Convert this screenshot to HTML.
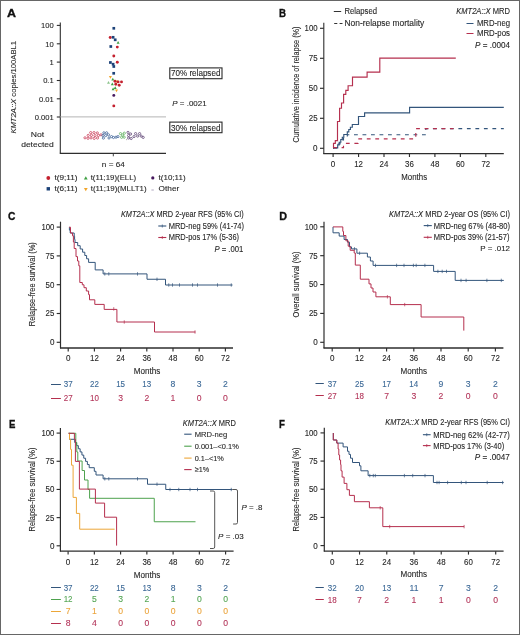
<!DOCTYPE html><html><head><meta charset="utf-8"><style>html,body{margin:0;padding:0;background:#fff;}svg{display:block;will-change:transform;} text{stroke-width:0.1px;} </style></head><body>
<svg width="520" height="635" viewBox="0 0 520 635" font-family='"Liberation Sans", sans-serif'>
<rect x="0" y="0" width="520" height="635" fill="#fff"/>
<rect x="0.5" y="0.5" width="519" height="634" fill="none" stroke="#666" stroke-width="1"/>
<text x="6.9" y="16.7" font-size="11.8" font-weight="bold" fill="#111" stroke="#111" style="stroke-width:0.35px" textLength="9.0" lengthAdjust="spacingAndGlyphs">A</text>
<text x="278.9" y="16.7" font-size="11.8" font-weight="bold" fill="#111" stroke="#111" style="stroke-width:0.35px" textLength="7.0" lengthAdjust="spacingAndGlyphs">B</text>
<text x="8.0" y="219.9" font-size="11.8" font-weight="bold" fill="#111" stroke="#111" style="stroke-width:0.35px" textLength="7.4" lengthAdjust="spacingAndGlyphs">C</text>
<text x="279.2" y="219.7" font-size="11.8" font-weight="bold" fill="#111" stroke="#111" style="stroke-width:0.35px" textLength="7.8" lengthAdjust="spacingAndGlyphs">D</text>
<text x="8.9" y="428.2" font-size="11.8" font-weight="bold" fill="#111" stroke="#111" style="stroke-width:0.35px" textLength="6.4" lengthAdjust="spacingAndGlyphs">E</text>
<text x="278.9" y="428.2" font-size="11.8" font-weight="bold" fill="#111" stroke="#111" style="stroke-width:0.35px" textLength="5.9" lengthAdjust="spacingAndGlyphs">F</text>
<line x1="60.30" y1="22.50" x2="60.30" y2="153.60" stroke="#2e2e2e" stroke-width="1.1" />
<line x1="59.80" y1="153.40" x2="166.00" y2="153.40" stroke="#2e2e2e" stroke-width="1.1" />
<line x1="56.80" y1="25.40" x2="60.30" y2="25.40" stroke="#2e2e2e" stroke-width="1.1" />
<text x="53.70" y="28.15" font-size="7.6" fill="#262626" stroke="#262626" text-anchor="end" >100</text>
<line x1="56.80" y1="43.80" x2="60.30" y2="43.80" stroke="#2e2e2e" stroke-width="1.1" />
<text x="53.70" y="46.55" font-size="7.6" fill="#262626" stroke="#262626" text-anchor="end" >10</text>
<line x1="56.80" y1="62.10" x2="60.30" y2="62.10" stroke="#2e2e2e" stroke-width="1.1" />
<text x="53.70" y="64.85" font-size="7.6" fill="#262626" stroke="#262626" text-anchor="end" >1</text>
<line x1="56.80" y1="80.50" x2="60.30" y2="80.50" stroke="#2e2e2e" stroke-width="1.1" />
<text x="53.70" y="83.25" font-size="7.6" fill="#262626" stroke="#262626" text-anchor="end" >0.1</text>
<line x1="56.80" y1="98.80" x2="60.30" y2="98.80" stroke="#2e2e2e" stroke-width="1.1" />
<text x="53.70" y="101.55" font-size="7.6" fill="#262626" stroke="#262626" text-anchor="end" >0.01</text>
<line x1="56.80" y1="117.00" x2="60.30" y2="117.00" stroke="#2e2e2e" stroke-width="1.1" />
<text x="53.70" y="119.75" font-size="7.6" fill="#262626" stroke="#262626" text-anchor="end" >0.001</text>
<line x1="60.30" y1="116.90" x2="166.00" y2="116.90" stroke="#b4b4b4" stroke-width="1.0" />
<text x="37.50" y="136.90" font-size="7.6" fill="#262626" stroke="#262626" text-anchor="middle" textLength="13.40" lengthAdjust="spacingAndGlyphs" >Not</text>
<text x="37.50" y="146.90" font-size="7.6" fill="#262626" stroke="#262626" text-anchor="middle" textLength="32.70" lengthAdjust="spacingAndGlyphs" >detected</text>
<line x1="113.30" y1="153.40" x2="113.30" y2="156.30" stroke="#2e2e2e" stroke-width="0.9" />
<text x="113.30" y="166.50" font-size="7.6" fill="#262626" stroke="#262626" text-anchor="middle" textLength="22.90" lengthAdjust="spacingAndGlyphs" >n = 64</text>
<text transform="translate(16.2,87.3) rotate(-90)" font-size="7.6" fill="#262626" stroke="#262626" text-anchor="middle" textLength="92.6" lengthAdjust="spacingAndGlyphs"><tspan font-style="italic">KMT2A::X</tspan> copies/100ABL1</text>
<rect x="169.8" y="67.9" width="52.2" height="10.8" fill="none" stroke="#2a2a2a" stroke-width="1.1"/>
<text x="171.00" y="76.30" font-size="8.4" fill="#262626" stroke="#262626" textLength="49.40" lengthAdjust="spacingAndGlyphs" >70% relapsed</text>
<rect x="169.8" y="122.1" width="52.2" height="10.6" fill="none" stroke="#2a2a2a" stroke-width="1.1"/>
<text x="171.00" y="130.50" font-size="8.4" fill="#262626" stroke="#262626" textLength="49.40" lengthAdjust="spacingAndGlyphs" >30% relapsed</text>
<text x="172.3" y="106.3" font-size="7.6" fill="#262626" stroke="#262626" textLength="34.3" lengthAdjust="spacingAndGlyphs"><tspan font-style="italic">P</tspan> = .0021</text>
<rect x="112.45" y="26.95" width="2.7" height="2.7" fill="#1c4278"/>
<circle cx="110.20" cy="37.50" r="1.45" fill="#c4202e"/>
<rect x="111.75" y="35.95" width="2.7" height="2.7" fill="#1c4278"/>
<rect x="113.85" y="38.45" width="2.7" height="2.7" fill="#1c4278"/>
<path d="M116.60,43.65 L119.60,43.65 L118.10,40.95 Z" fill="#3ea043"/>
<rect x="109.45" y="45.15" width="2.7" height="2.7" fill="#1c4278"/>
<circle cx="117.30" cy="47.10" r="1.45" fill="#c4202e"/>
<circle cx="113.80" cy="56.00" r="1.45" fill="#c4202e"/>
<rect x="109.05" y="61.15" width="2.7" height="2.7" fill="#1c4278"/>
<rect x="111.75" y="62.85" width="2.7" height="2.7" fill="#1c4278"/>
<rect x="112.45" y="65.15" width="2.7" height="2.7" fill="#1c4278"/>
<circle cx="117.30" cy="62.30" r="1.45" fill="#c4202e"/>
<rect x="112.35" y="71.95" width="2.7" height="2.7" fill="#1c4278"/>
<path d="M108.90,75.95 L111.90,75.95 L110.40,78.65 Z" fill="#f2a52a"/>
<path d="M111.30,80.55 L114.30,80.55 L112.80,77.85 Z" fill="#3ea043"/>
<path d="M107.00,83.65 L110.00,83.65 L108.50,80.95 Z" fill="#8cc48c"/>
<path d="M110.80,85.15 L113.80,85.15 L112.30,82.45 Z" fill="#3ea043"/>
<path d="M115.40,80.55 L118.40,80.55 L116.90,83.25 Z" fill="#f2a52a"/>
<circle cx="115.00" cy="81.20" r="1.45" fill="#c4202e"/>
<circle cx="118.10" cy="81.90" r="1.45" fill="#c4202e"/>
<circle cx="121.50" cy="81.90" r="1.45" fill="#c4202e"/>
<circle cx="115.80" cy="84.20" r="1.45" fill="#c4202e"/>
<circle cx="119.20" cy="85.20" r="1.45" fill="#c4202e"/>
<path d="M111.60,90.15 L114.60,90.15 L113.10,87.45 Z" fill="#3ea043"/>
<path d="M113.70,89.05 L116.70,89.05 L115.20,86.35 Z" fill="#3ea043"/>
<path d="M115.00,89.45 L118.00,89.45 L116.50,92.15 Z" fill="#f2a52a"/>
<circle cx="113.80" cy="95.40" r="1.45" fill="#47195e"/>
<circle cx="113.80" cy="105.90" r="1.45" fill="#c4202e"/>
<circle cx="90.70" cy="132.60" r="1.1" fill="none" stroke="#c83a55" stroke-width="0.75"/>
<circle cx="94.00" cy="132.60" r="1.1" fill="none" stroke="#c83a55" stroke-width="0.75"/>
<circle cx="97.30" cy="132.90" r="1.1" fill="none" stroke="#c83a55" stroke-width="0.75"/>
<circle cx="88.20" cy="135.40" r="1.1" fill="none" stroke="#c83a55" stroke-width="0.75"/>
<circle cx="91.50" cy="135.30" r="1.1" fill="none" stroke="#c83a55" stroke-width="0.75"/>
<circle cx="95.00" cy="135.60" r="1.1" fill="none" stroke="#c83a55" stroke-width="0.75"/>
<circle cx="98.50" cy="135.40" r="1.1" fill="none" stroke="#c83a55" stroke-width="0.75"/>
<circle cx="101.00" cy="134.80" r="1.1" fill="none" stroke="#c83a55" stroke-width="0.75"/>
<circle cx="85.00" cy="137.80" r="1.1" fill="none" stroke="#c83a55" stroke-width="0.75"/>
<circle cx="88.00" cy="138.30" r="1.1" fill="none" stroke="#c83a55" stroke-width="0.75"/>
<circle cx="91.00" cy="137.90" r="1.1" fill="none" stroke="#c83a55" stroke-width="0.75"/>
<circle cx="94.20" cy="138.40" r="1.1" fill="none" stroke="#c83a55" stroke-width="0.75"/>
<circle cx="97.50" cy="138.00" r="1.1" fill="none" stroke="#c83a55" stroke-width="0.75"/>
<circle cx="103.90" cy="132.80" r="1.1" fill="none" stroke="#3a5f95" stroke-width="0.75"/>
<circle cx="106.60" cy="132.80" r="1.1" fill="none" stroke="#3a5f95" stroke-width="0.75"/>
<circle cx="103.00" cy="135.40" r="1.1" fill="none" stroke="#3a5f95" stroke-width="0.75"/>
<circle cx="105.70" cy="135.60" r="1.1" fill="none" stroke="#3a5f95" stroke-width="0.75"/>
<circle cx="108.50" cy="134.80" r="1.1" fill="none" stroke="#3a5f95" stroke-width="0.75"/>
<circle cx="103.40" cy="138.10" r="1.1" fill="none" stroke="#3a5f95" stroke-width="0.75"/>
<circle cx="109.00" cy="138.00" r="1.1" fill="none" stroke="#3a5f95" stroke-width="0.75"/>
<circle cx="111.50" cy="136.60" r="1.1" fill="none" stroke="#3a5f95" stroke-width="0.75"/>
<circle cx="113.50" cy="137.50" r="1.1" fill="none" stroke="#3a5f95" stroke-width="0.75"/>
<circle cx="116.00" cy="137.20" r="1.1" fill="none" stroke="#3a5f95" stroke-width="0.75"/>
<circle cx="118.00" cy="136.60" r="1.1" fill="none" stroke="#3a5f95" stroke-width="0.75"/>
<circle cx="120.50" cy="133.60" r="1.1" fill="none" stroke="#5cae5c" stroke-width="0.75"/>
<circle cx="122.60" cy="135.00" r="1.1" fill="none" stroke="#5cae5c" stroke-width="0.75"/>
<circle cx="124.30" cy="133.20" r="1.1" fill="none" stroke="#5cae5c" stroke-width="0.75"/>
<circle cx="121.60" cy="137.30" r="1.1" fill="none" stroke="#5cae5c" stroke-width="0.75"/>
<circle cx="124.20" cy="137.20" r="1.1" fill="none" stroke="#5cae5c" stroke-width="0.75"/>
<circle cx="128.00" cy="132.40" r="1.1" fill="none" stroke="#5a3f70" stroke-width="0.75"/>
<circle cx="128.60" cy="135.50" r="1.1" fill="none" stroke="#5a3f70" stroke-width="0.75"/>
<circle cx="130.60" cy="134.00" r="1.1" fill="none" stroke="#5a3f70" stroke-width="0.75"/>
<circle cx="128.60" cy="138.00" r="1.1" fill="none" stroke="#5a3f70" stroke-width="0.75"/>
<circle cx="131.20" cy="138.50" r="1.1" fill="none" stroke="#5a3f70" stroke-width="0.75"/>
<circle cx="134.00" cy="136.60" r="1.1" fill="none" stroke="#5a3f70" stroke-width="0.75"/>
<circle cx="135.60" cy="133.60" r="1.1" fill="none" stroke="#5a3f70" stroke-width="0.75"/>
<circle cx="137.60" cy="136.10" r="1.1" fill="none" stroke="#5a3f70" stroke-width="0.75"/>
<circle cx="139.60" cy="133.60" r="1.1" fill="none" stroke="#5a3f70" stroke-width="0.75"/>
<circle cx="141.20" cy="136.10" r="1.1" fill="none" stroke="#5a3f70" stroke-width="0.75"/>
<circle cx="143.20" cy="137.40" r="1.1" fill="none" stroke="#5a3f70" stroke-width="0.75"/>
<circle cx="126.60" cy="139.60" r="0.6" fill="#aaa"/>
<circle cx="48.30" cy="178.00" r="1.9" fill="#c4202e"/>
<text x="54.40" y="180.20" font-size="7.6" fill="#262626" stroke="#262626" textLength="23.10" lengthAdjust="spacingAndGlyphs" >t(9;11)</text>
<path d="M83.90,179.61 L87.70,179.61 L85.80,176.19 Z" fill="#3ea043"/>
<text x="90.70" y="180.20" font-size="7.6" fill="#262626" stroke="#262626" textLength="45.50" lengthAdjust="spacingAndGlyphs" >t(11;19)(ELL)</text>
<circle cx="152.80" cy="177.90" r="1.6" fill="#47195e"/>
<text x="158.60" y="180.20" font-size="7.6" fill="#262626" stroke="#262626" textLength="27.00" lengthAdjust="spacingAndGlyphs" >t(10;11)</text>
<rect x="46.60" y="187.10" width="3.4" height="3.4" fill="#1c4278"/>
<text x="54.40" y="191.00" font-size="7.6" fill="#262626" stroke="#262626" textLength="23.10" lengthAdjust="spacingAndGlyphs" >t(6;11)</text>
<path d="M83.90,187.89 L87.70,187.89 L85.80,191.31 Z" fill="#f2a52a"/>
<text x="90.70" y="191.00" font-size="7.6" fill="#262626" stroke="#262626" textLength="55.90" lengthAdjust="spacingAndGlyphs" >t(11;19)(MLLT1)</text>
<line x1="151.40" y1="190.00" x2="153.80" y2="190.00" stroke="#b0a8c0" stroke-width="1.0" />
<text x="158.60" y="191.00" font-size="7.6" fill="#262626" stroke="#262626" textLength="20.70" lengthAdjust="spacingAndGlyphs" >Other</text>
<line x1="323.80" y1="22.80" x2="323.80" y2="153.90" stroke="#2e2e2e" stroke-width="1.1" />
<line x1="323.30" y1="153.60" x2="503.80" y2="153.60" stroke="#2e2e2e" stroke-width="1.1" />
<line x1="320.00" y1="148.30" x2="323.80" y2="148.30" stroke="#2e2e2e" stroke-width="1.15" />
<text x="317.60" y="151.20" font-size="8.2" fill="#262626" stroke="#262626" text-anchor="end" textLength="4.50" lengthAdjust="spacingAndGlyphs" >0</text>
<line x1="320.00" y1="118.30" x2="323.80" y2="118.30" stroke="#2e2e2e" stroke-width="1.15" />
<text x="317.60" y="121.20" font-size="8.2" fill="#262626" stroke="#262626" text-anchor="end" textLength="8.80" lengthAdjust="spacingAndGlyphs" >25</text>
<line x1="320.00" y1="88.30" x2="323.80" y2="88.30" stroke="#2e2e2e" stroke-width="1.15" />
<text x="317.60" y="91.20" font-size="8.2" fill="#262626" stroke="#262626" text-anchor="end" textLength="8.80" lengthAdjust="spacingAndGlyphs" >50</text>
<line x1="320.00" y1="58.30" x2="323.80" y2="58.30" stroke="#2e2e2e" stroke-width="1.15" />
<text x="317.60" y="61.20" font-size="8.2" fill="#262626" stroke="#262626" text-anchor="end" textLength="8.80" lengthAdjust="spacingAndGlyphs" >75</text>
<line x1="320.00" y1="28.30" x2="323.80" y2="28.30" stroke="#2e2e2e" stroke-width="1.15" />
<text x="317.60" y="31.20" font-size="8.2" fill="#262626" stroke="#262626" text-anchor="end" textLength="13.00" lengthAdjust="spacingAndGlyphs" >100</text>
<line x1="333.10" y1="153.60" x2="333.10" y2="157.00" stroke="#2e2e2e" stroke-width="1.15" />
<text x="333.10" y="167.10" font-size="8.2" fill="#262626" stroke="#262626" text-anchor="middle" textLength="4.50" lengthAdjust="spacingAndGlyphs" >0</text>
<line x1="358.55" y1="153.60" x2="358.55" y2="157.00" stroke="#2e2e2e" stroke-width="1.15" />
<text x="358.55" y="167.10" font-size="8.2" fill="#262626" stroke="#262626" text-anchor="middle" textLength="8.80" lengthAdjust="spacingAndGlyphs" >12</text>
<line x1="384.00" y1="153.60" x2="384.00" y2="157.00" stroke="#2e2e2e" stroke-width="1.15" />
<text x="384.00" y="167.10" font-size="8.2" fill="#262626" stroke="#262626" text-anchor="middle" textLength="8.80" lengthAdjust="spacingAndGlyphs" >24</text>
<line x1="409.46" y1="153.60" x2="409.46" y2="157.00" stroke="#2e2e2e" stroke-width="1.15" />
<text x="409.46" y="167.10" font-size="8.2" fill="#262626" stroke="#262626" text-anchor="middle" textLength="8.80" lengthAdjust="spacingAndGlyphs" >36</text>
<line x1="434.91" y1="153.60" x2="434.91" y2="157.00" stroke="#2e2e2e" stroke-width="1.15" />
<text x="434.91" y="167.10" font-size="8.2" fill="#262626" stroke="#262626" text-anchor="middle" textLength="8.80" lengthAdjust="spacingAndGlyphs" >48</text>
<line x1="460.36" y1="153.60" x2="460.36" y2="157.00" stroke="#2e2e2e" stroke-width="1.15" />
<text x="460.36" y="167.10" font-size="8.2" fill="#262626" stroke="#262626" text-anchor="middle" textLength="8.80" lengthAdjust="spacingAndGlyphs" >60</text>
<line x1="485.81" y1="153.60" x2="485.81" y2="157.00" stroke="#2e2e2e" stroke-width="1.15" />
<text x="485.81" y="167.10" font-size="8.2" fill="#262626" stroke="#262626" text-anchor="middle" textLength="8.80" lengthAdjust="spacingAndGlyphs" >72</text>
<text x="414.20" y="179.80" font-size="9.3" fill="#262626" stroke="#262626" text-anchor="middle" textLength="25.80" lengthAdjust="spacingAndGlyphs" >Months</text>
<text transform="translate(299.2,84.5) rotate(-90)" font-size="8.8" fill="#262626" stroke="#262626" text-anchor="middle" textLength="115.8" lengthAdjust="spacingAndGlyphs">Cumulative incidence of relapse (%)</text>
<line x1="333.80" y1="11.50" x2="341.20" y2="11.50" stroke="#333" stroke-width="1.0" />
<text x="344.50" y="14.20" font-size="8.4" fill="#262626" stroke="#262626" textLength="32.50" lengthAdjust="spacingAndGlyphs" >Relapsed</text>
<line x1="334.20" y1="23.50" x2="337.30" y2="23.50" stroke="#333" stroke-width="1.0" />
<line x1="339.60" y1="23.50" x2="342.50" y2="23.50" stroke="#333" stroke-width="1.0" />
<text x="344.50" y="26.00" font-size="8.4" fill="#262626" stroke="#262626" textLength="79.80" lengthAdjust="spacingAndGlyphs" >Non-relapse mortality</text>
<text x="510" y="13.9" font-size="8.2" fill="#262626" stroke="#262626" text-anchor="end" textLength="53.8" lengthAdjust="spacingAndGlyphs"><tspan font-style="italic">KMT2A::X</tspan> MRD</text>
<line x1="466.50" y1="23.50" x2="473.50" y2="23.50" stroke="#33557b" stroke-width="1.0" />
<text x="510.00" y="25.50" font-size="8.3" fill="#262626" stroke="#262626" text-anchor="end" textLength="33.10" lengthAdjust="spacingAndGlyphs" >MRD-neg</text>
<line x1="466.50" y1="33.50" x2="473.50" y2="33.50" stroke="#b52f4e" stroke-width="1.0" />
<text x="510.00" y="36.20" font-size="8.3" fill="#262626" stroke="#262626" text-anchor="end" textLength="33.10" lengthAdjust="spacingAndGlyphs" >MRD-pos</text>
<text x="510" y="47.6" font-size="8.3" fill="#262626" stroke="#262626" text-anchor="end" textLength="35" lengthAdjust="spacingAndGlyphs"><tspan font-style="italic">P</tspan> = .0004</text>
<path d="M333.10,148.30 H333.50 V143.40 H335.30 V140.60 H337.50 V138.40 H337.50 V121.50 H339.60 V108.20 H341.50 V103.00 H343.60 V94.40 H345.80 V90.40 H348.10 V85.75 H352.50 V77.10 H367.10 V72.10 H379.80 V58.10 H455.80" fill="none" stroke="#b52f4e" stroke-width="1.15" stroke-linejoin="miter" stroke-linecap="butt" />
<path d="M333.10,147.80 H337.70 V144.90 H339.20 V142.20 H340.80 V139.50 H342.30 V137.20 H343.80 V134.50 H347.30 V131.80 H348.80 V129.50 H350.40 V127.20 H352.30 V124.50 H358.50 V116.50 H364.60 V112.90 H409.60 V107.40 H503.80" fill="none" stroke="#33557b" stroke-width="1.15" stroke-linejoin="miter" stroke-linecap="butt" />
<path d="M333.10,147.80 H336.50 V144.00 H340.00 V140.00 H343.50 V137.00 H347.30 V134.70 H425.80 V128.60 H503.80" fill="none" stroke="#33557b" stroke-width="1.15" stroke-linejoin="miter" stroke-linecap="butt" stroke-dasharray="3.8,4.7"/>
<path d="M333.10,147.60 H343.50 V143.40 H358.10 V138.80 H415.80 V128.60 H453.50" fill="none" stroke="#b52f4e" stroke-width="1.15" stroke-linejoin="miter" stroke-linecap="butt" stroke-dasharray="3.8,4.7"/>
<line x1="60.50" y1="221.70" x2="60.50" y2="348.30" stroke="#2e2e2e" stroke-width="1.2" />
<line x1="60.00" y1="348.00" x2="233.00" y2="348.00" stroke="#2e2e2e" stroke-width="1.3" />
<line x1="56.70" y1="342.30" x2="60.50" y2="342.30" stroke="#2e2e2e" stroke-width="1.15" />
<text x="54.40" y="345.20" font-size="8.2" fill="#262626" stroke="#262626" text-anchor="end" textLength="4.50" lengthAdjust="spacingAndGlyphs" >0</text>
<line x1="56.70" y1="313.50" x2="60.50" y2="313.50" stroke="#2e2e2e" stroke-width="1.15" />
<text x="54.40" y="316.40" font-size="8.2" fill="#262626" stroke="#262626" text-anchor="end" textLength="8.80" lengthAdjust="spacingAndGlyphs" >25</text>
<line x1="56.70" y1="284.70" x2="60.50" y2="284.70" stroke="#2e2e2e" stroke-width="1.15" />
<text x="54.40" y="287.60" font-size="8.2" fill="#262626" stroke="#262626" text-anchor="end" textLength="8.80" lengthAdjust="spacingAndGlyphs" >50</text>
<line x1="56.70" y1="255.90" x2="60.50" y2="255.90" stroke="#2e2e2e" stroke-width="1.15" />
<text x="54.40" y="258.80" font-size="8.2" fill="#262626" stroke="#262626" text-anchor="end" textLength="8.80" lengthAdjust="spacingAndGlyphs" >75</text>
<line x1="56.70" y1="227.10" x2="60.50" y2="227.10" stroke="#2e2e2e" stroke-width="1.15" />
<text x="54.40" y="230.00" font-size="8.2" fill="#262626" stroke="#262626" text-anchor="end" textLength="13.00" lengthAdjust="spacingAndGlyphs" >100</text>
<line x1="68.20" y1="348.00" x2="68.20" y2="351.40" stroke="#2e2e2e" stroke-width="1.15" />
<text x="68.20" y="361.20" font-size="8.2" fill="#262626" stroke="#262626" text-anchor="middle" textLength="4.50" lengthAdjust="spacingAndGlyphs" >0</text>
<line x1="94.40" y1="348.00" x2="94.40" y2="351.40" stroke="#2e2e2e" stroke-width="1.15" />
<text x="94.40" y="361.20" font-size="8.2" fill="#262626" stroke="#262626" text-anchor="middle" textLength="8.80" lengthAdjust="spacingAndGlyphs" >12</text>
<line x1="120.60" y1="348.00" x2="120.60" y2="351.40" stroke="#2e2e2e" stroke-width="1.15" />
<text x="120.60" y="361.20" font-size="8.2" fill="#262626" stroke="#262626" text-anchor="middle" textLength="8.80" lengthAdjust="spacingAndGlyphs" >24</text>
<line x1="146.80" y1="348.00" x2="146.80" y2="351.40" stroke="#2e2e2e" stroke-width="1.15" />
<text x="146.80" y="361.20" font-size="8.2" fill="#262626" stroke="#262626" text-anchor="middle" textLength="8.80" lengthAdjust="spacingAndGlyphs" >36</text>
<line x1="173.00" y1="348.00" x2="173.00" y2="351.40" stroke="#2e2e2e" stroke-width="1.15" />
<text x="173.00" y="361.20" font-size="8.2" fill="#262626" stroke="#262626" text-anchor="middle" textLength="8.80" lengthAdjust="spacingAndGlyphs" >48</text>
<line x1="199.20" y1="348.00" x2="199.20" y2="351.40" stroke="#2e2e2e" stroke-width="1.15" />
<text x="199.20" y="361.20" font-size="8.2" fill="#262626" stroke="#262626" text-anchor="middle" textLength="8.80" lengthAdjust="spacingAndGlyphs" >60</text>
<line x1="225.40" y1="348.00" x2="225.40" y2="351.40" stroke="#2e2e2e" stroke-width="1.15" />
<text x="225.40" y="361.20" font-size="8.2" fill="#262626" stroke="#262626" text-anchor="middle" textLength="8.80" lengthAdjust="spacingAndGlyphs" >72</text>
<text x="147.10" y="374.20" font-size="9.3" fill="#262626" stroke="#262626" text-anchor="middle" textLength="26.70" lengthAdjust="spacingAndGlyphs" >Months</text>
<text transform="translate(34.60,284.20) rotate(-90)" font-size="8.8" fill="#262626" stroke="#262626" text-anchor="middle" textLength="84.1" lengthAdjust="spacingAndGlyphs">Relapse-free survival (%)</text>
<text x="243.8" y="216.9" font-size="8.2" fill="#262626" stroke="#262626" text-anchor="end" textLength="122.9" lengthAdjust="spacingAndGlyphs"><tspan font-style="italic">KMT2A::X</tspan> MRD 2-year RFS (95% CI)</text>
<line x1="158.30" y1="226.00" x2="166.30" y2="226.00" stroke="#33557b" stroke-width="1.1" />
<line x1="162.30" y1="224.50" x2="162.30" y2="227.50" stroke="#33557b" stroke-width="0.7" />
<text x="244.00" y="228.90" font-size="8.2" fill="#262626" stroke="#262626" text-anchor="end" textLength="75.30" lengthAdjust="spacingAndGlyphs" >MRD-neg 59% (41-74)</text>
<line x1="158.30" y1="237.50" x2="166.30" y2="237.50" stroke="#b52f4e" stroke-width="1.1" />
<line x1="162.30" y1="236.00" x2="162.30" y2="239.00" stroke="#b52f4e" stroke-width="0.7" />
<text x="239.10" y="240.40" font-size="8.2" fill="#262626" stroke="#262626" text-anchor="end" textLength="70.40" lengthAdjust="spacingAndGlyphs" >MRD-pos 17% (5-36)</text>
<text x="243.3" y="252.0" font-size="8.2" fill="#262626" stroke="#262626" text-anchor="end" textLength="28.9" lengthAdjust="spacingAndGlyphs"><tspan font-style="italic">P</tspan> = .001</text>
<path d="M69.20,227.20 H69.40 V230.10 H70.20 V233.00 H74.20 V236.20 H74.60 V239.40 H75.00 V242.50 H77.70 V245.70 H80.20 V249.00 H82.60 V252.20 H84.80 V255.50 H86.60 V258.80 H88.60 V262.40 H95.20 V269.90 H103.10 V273.90 H147.00 V279.25 H165.50 V285.00 H232.50" fill="none" stroke="#33557b" stroke-width="1.0" stroke-linejoin="miter" stroke-linecap="butt" />
<line x1="104.80" y1="272.20" x2="104.80" y2="275.60" stroke="#33557b" stroke-width="0.7" />
<line x1="108.80" y1="272.20" x2="108.80" y2="275.60" stroke="#33557b" stroke-width="0.7" />
<line x1="137.50" y1="272.20" x2="137.50" y2="275.60" stroke="#33557b" stroke-width="0.7" />
<line x1="157.00" y1="277.60" x2="157.00" y2="281.00" stroke="#33557b" stroke-width="0.7" />
<line x1="168.75" y1="283.30" x2="168.75" y2="286.70" stroke="#33557b" stroke-width="0.7" />
<line x1="172.50" y1="283.30" x2="172.50" y2="286.70" stroke="#33557b" stroke-width="0.7" />
<line x1="179.50" y1="283.30" x2="179.50" y2="286.70" stroke="#33557b" stroke-width="0.7" />
<line x1="192.50" y1="283.30" x2="192.50" y2="286.70" stroke="#33557b" stroke-width="0.7" />
<line x1="197.50" y1="283.30" x2="197.50" y2="286.70" stroke="#33557b" stroke-width="0.7" />
<line x1="217.50" y1="283.30" x2="217.50" y2="286.70" stroke="#33557b" stroke-width="0.7" />
<line x1="231.25" y1="283.30" x2="231.25" y2="286.70" stroke="#33557b" stroke-width="0.7" />
<path d="M69.20,227.20 H70.50 V233.00 H72.50 V235.80 H73.40 V242.00 H74.20 V248.50 H76.00 V256.60 H77.50 V261.00 H78.80 V265.80 H79.80 V282.50 H82.30 V284.80 H84.00 V287.70 H86.30 V291.00 H88.60 V294.60 H89.50 V299.80 H94.80 V304.40 H104.20 V309.40 H116.90 V322.00 H154.50 V332.00 H195.40" fill="none" stroke="#b52f4e" stroke-width="1.0" stroke-linejoin="miter" stroke-linecap="butt" />
<line x1="113.75" y1="307.20" x2="113.75" y2="310.60" stroke="#b52f4e" stroke-width="0.7" />
<line x1="124.25" y1="320.30" x2="124.25" y2="323.70" stroke="#b52f4e" stroke-width="0.7" />
<line x1="195.00" y1="330.30" x2="195.00" y2="333.70" stroke="#b52f4e" stroke-width="0.7" />
<line x1="51.00" y1="384.50" x2="60.90" y2="384.50" stroke="#33557b" stroke-width="1.0" />
<text x="68.20" y="387.30" font-size="8.5" fill="#3b6896" stroke="#3b6896" text-anchor="middle" textLength="8.90" lengthAdjust="spacingAndGlyphs" >37</text>
<text x="94.40" y="387.30" font-size="8.5" fill="#3b6896" stroke="#3b6896" text-anchor="middle" textLength="8.90" lengthAdjust="spacingAndGlyphs" >22</text>
<text x="120.60" y="387.30" font-size="8.5" fill="#3b6896" stroke="#3b6896" text-anchor="middle" textLength="8.90" lengthAdjust="spacingAndGlyphs" >15</text>
<text x="146.80" y="387.30" font-size="8.5" fill="#3b6896" stroke="#3b6896" text-anchor="middle" textLength="8.90" lengthAdjust="spacingAndGlyphs" >13</text>
<text x="173.00" y="387.30" font-size="8.5" fill="#3b6896" stroke="#3b6896" text-anchor="middle" textLength="4.80" lengthAdjust="spacingAndGlyphs" >8</text>
<text x="199.20" y="387.30" font-size="8.5" fill="#3b6896" stroke="#3b6896" text-anchor="middle" textLength="4.80" lengthAdjust="spacingAndGlyphs" >3</text>
<text x="225.40" y="387.30" font-size="8.5" fill="#3b6896" stroke="#3b6896" text-anchor="middle" textLength="4.80" lengthAdjust="spacingAndGlyphs" >2</text>
<line x1="51.00" y1="398.50" x2="60.90" y2="398.50" stroke="#b52f4e" stroke-width="1.0" />
<text x="68.20" y="400.90" font-size="8.5" fill="#b3355a" stroke="#b3355a" text-anchor="middle" textLength="8.90" lengthAdjust="spacingAndGlyphs" >27</text>
<text x="94.40" y="400.90" font-size="8.5" fill="#b3355a" stroke="#b3355a" text-anchor="middle" textLength="8.90" lengthAdjust="spacingAndGlyphs" >10</text>
<text x="120.60" y="400.90" font-size="8.5" fill="#b3355a" stroke="#b3355a" text-anchor="middle" textLength="4.80" lengthAdjust="spacingAndGlyphs" >3</text>
<text x="146.80" y="400.90" font-size="8.5" fill="#b3355a" stroke="#b3355a" text-anchor="middle" textLength="4.80" lengthAdjust="spacingAndGlyphs" >2</text>
<text x="173.00" y="400.90" font-size="8.5" fill="#b3355a" stroke="#b3355a" text-anchor="middle" textLength="4.80" lengthAdjust="spacingAndGlyphs" >1</text>
<text x="199.20" y="400.90" font-size="8.5" fill="#b3355a" stroke="#b3355a" text-anchor="middle" textLength="4.80" lengthAdjust="spacingAndGlyphs" >0</text>
<text x="225.40" y="400.90" font-size="8.5" fill="#b3355a" stroke="#b3355a" text-anchor="middle" textLength="4.80" lengthAdjust="spacingAndGlyphs" >0</text>
<line x1="324.00" y1="221.70" x2="324.00" y2="348.30" stroke="#2e2e2e" stroke-width="1.2" />
<line x1="323.50" y1="348.00" x2="503.40" y2="348.00" stroke="#2e2e2e" stroke-width="1.3" />
<line x1="320.20" y1="342.30" x2="324.00" y2="342.30" stroke="#2e2e2e" stroke-width="1.15" />
<text x="317.70" y="345.20" font-size="8.2" fill="#262626" stroke="#262626" text-anchor="end" textLength="4.50" lengthAdjust="spacingAndGlyphs" >0</text>
<line x1="320.20" y1="313.43" x2="324.00" y2="313.43" stroke="#2e2e2e" stroke-width="1.15" />
<text x="317.70" y="316.32" font-size="8.2" fill="#262626" stroke="#262626" text-anchor="end" textLength="8.80" lengthAdjust="spacingAndGlyphs" >25</text>
<line x1="320.20" y1="284.55" x2="324.00" y2="284.55" stroke="#2e2e2e" stroke-width="1.15" />
<text x="317.70" y="287.45" font-size="8.2" fill="#262626" stroke="#262626" text-anchor="end" textLength="8.80" lengthAdjust="spacingAndGlyphs" >50</text>
<line x1="320.20" y1="255.68" x2="324.00" y2="255.68" stroke="#2e2e2e" stroke-width="1.15" />
<text x="317.70" y="258.57" font-size="8.2" fill="#262626" stroke="#262626" text-anchor="end" textLength="8.80" lengthAdjust="spacingAndGlyphs" >75</text>
<line x1="320.20" y1="226.80" x2="324.00" y2="226.80" stroke="#2e2e2e" stroke-width="1.15" />
<text x="317.70" y="229.70" font-size="8.2" fill="#262626" stroke="#262626" text-anchor="end" textLength="13.00" lengthAdjust="spacingAndGlyphs" >100</text>
<line x1="332.20" y1="348.00" x2="332.20" y2="351.40" stroke="#2e2e2e" stroke-width="1.15" />
<text x="332.20" y="361.40" font-size="8.2" fill="#262626" stroke="#262626" text-anchor="middle" textLength="4.50" lengthAdjust="spacingAndGlyphs" >0</text>
<line x1="359.40" y1="348.00" x2="359.40" y2="351.40" stroke="#2e2e2e" stroke-width="1.15" />
<text x="359.40" y="361.40" font-size="8.2" fill="#262626" stroke="#262626" text-anchor="middle" textLength="8.80" lengthAdjust="spacingAndGlyphs" >12</text>
<line x1="386.60" y1="348.00" x2="386.60" y2="351.40" stroke="#2e2e2e" stroke-width="1.15" />
<text x="386.60" y="361.40" font-size="8.2" fill="#262626" stroke="#262626" text-anchor="middle" textLength="8.80" lengthAdjust="spacingAndGlyphs" >24</text>
<line x1="413.80" y1="348.00" x2="413.80" y2="351.40" stroke="#2e2e2e" stroke-width="1.15" />
<text x="413.80" y="361.40" font-size="8.2" fill="#262626" stroke="#262626" text-anchor="middle" textLength="8.80" lengthAdjust="spacingAndGlyphs" >36</text>
<line x1="441.00" y1="348.00" x2="441.00" y2="351.40" stroke="#2e2e2e" stroke-width="1.15" />
<text x="441.00" y="361.40" font-size="8.2" fill="#262626" stroke="#262626" text-anchor="middle" textLength="8.80" lengthAdjust="spacingAndGlyphs" >48</text>
<line x1="468.20" y1="348.00" x2="468.20" y2="351.40" stroke="#2e2e2e" stroke-width="1.15" />
<text x="468.20" y="361.40" font-size="8.2" fill="#262626" stroke="#262626" text-anchor="middle" textLength="8.80" lengthAdjust="spacingAndGlyphs" >60</text>
<line x1="495.40" y1="348.00" x2="495.40" y2="351.40" stroke="#2e2e2e" stroke-width="1.15" />
<text x="495.40" y="361.40" font-size="8.2" fill="#262626" stroke="#262626" text-anchor="middle" textLength="8.80" lengthAdjust="spacingAndGlyphs" >72</text>
<text x="413.80" y="374.20" font-size="9.3" fill="#262626" stroke="#262626" text-anchor="middle" textLength="26.50" lengthAdjust="spacingAndGlyphs" >Months</text>
<text transform="translate(298.80,284.50) rotate(-90)" font-size="8.8" fill="#262626" stroke="#262626" text-anchor="middle" textLength="66.1" lengthAdjust="spacingAndGlyphs">Overall survival (%)</text>
<text x="510" y="216.9" font-size="8.2" fill="#262626" stroke="#262626" text-anchor="end" textLength="121" lengthAdjust="spacingAndGlyphs"><tspan font-style="italic">KMT2A::X</tspan> MRD 2-year OS (95% CI)</text>
<line x1="423.70" y1="225.60" x2="431.80" y2="225.60" stroke="#33557b" stroke-width="1.1" />
<line x1="427.75" y1="224.10" x2="427.75" y2="227.10" stroke="#33557b" stroke-width="0.7" />
<text x="510.00" y="228.50" font-size="8.2" fill="#262626" stroke="#262626" text-anchor="end" textLength="76.20" lengthAdjust="spacingAndGlyphs" >MRD-neg 67% (48-80)</text>
<line x1="423.70" y1="237.30" x2="431.80" y2="237.30" stroke="#b52f4e" stroke-width="1.1" />
<line x1="427.75" y1="235.80" x2="427.75" y2="238.80" stroke="#b52f4e" stroke-width="0.7" />
<text x="509.40" y="240.20" font-size="8.2" fill="#262626" stroke="#262626" text-anchor="end" textLength="75.60" lengthAdjust="spacingAndGlyphs" >MRD-pos 39% (21-57)</text>
<text x="510.00" y="250.60" font-size="7.8" fill="#262626" stroke="#262626" text-anchor="end" textLength="29.70" lengthAdjust="spacingAndGlyphs" >P = .012</text>
<path d="M333.00,226.90 H333.00 V232.80 H339.20 V236.10 H344.10 V239.50 H347.50 V242.20 H349.50 V246.90 H351.50 V248.90 H356.90 V253.20 H367.40 V257.00 H370.40 V261.00 H373.10 V265.40 H433.60 V271.40 H455.20 V280.40 H503.80" fill="none" stroke="#33557b" stroke-width="1.0" stroke-linejoin="miter" stroke-linecap="butt" />
<line x1="354.50" y1="247.20" x2="354.50" y2="250.60" stroke="#33557b" stroke-width="0.7" />
<line x1="359.60" y1="251.50" x2="359.60" y2="254.90" stroke="#33557b" stroke-width="0.7" />
<line x1="375.50" y1="263.70" x2="375.50" y2="267.10" stroke="#33557b" stroke-width="0.7" />
<line x1="396.60" y1="263.70" x2="396.60" y2="267.10" stroke="#33557b" stroke-width="0.7" />
<line x1="404.00" y1="263.70" x2="404.00" y2="267.10" stroke="#33557b" stroke-width="0.7" />
<line x1="413.40" y1="263.70" x2="413.40" y2="267.10" stroke="#33557b" stroke-width="0.7" />
<line x1="416.20" y1="263.70" x2="416.20" y2="267.10" stroke="#33557b" stroke-width="0.7" />
<line x1="424.90" y1="263.70" x2="424.90" y2="267.10" stroke="#33557b" stroke-width="0.7" />
<line x1="437.90" y1="269.70" x2="437.90" y2="273.10" stroke="#33557b" stroke-width="0.7" />
<line x1="442.20" y1="269.70" x2="442.20" y2="273.10" stroke="#33557b" stroke-width="0.7" />
<line x1="446.50" y1="269.70" x2="446.50" y2="273.10" stroke="#33557b" stroke-width="0.7" />
<line x1="461.00" y1="278.70" x2="461.00" y2="282.10" stroke="#33557b" stroke-width="0.7" />
<line x1="466.10" y1="278.70" x2="466.10" y2="282.10" stroke="#33557b" stroke-width="0.7" />
<line x1="486.90" y1="278.70" x2="486.90" y2="282.10" stroke="#33557b" stroke-width="0.7" />
<line x1="501.30" y1="278.70" x2="501.30" y2="282.10" stroke="#33557b" stroke-width="0.7" />
<path d="M333.00,226.90 H342.80 V231.40 H343.50 V235.50 H345.90 V240.80 H348.20 V246.20 H350.20 V250.30 H354.20 V253.00 H355.30 V265.10 H360.30 V279.20 H369.00 V283.90 H371.00 V288.00 H373.00 V292.00 H375.90 V296.80 H390.30 V304.60 H421.10 V317.00 H463.80 V330.60 H463.80" fill="none" stroke="#b52f4e" stroke-width="1.0" stroke-linejoin="miter" stroke-linecap="butt" />
<line x1="387.40" y1="295.10" x2="387.40" y2="298.50" stroke="#b52f4e" stroke-width="0.7" />
<line x1="404.70" y1="302.90" x2="404.70" y2="306.30" stroke="#b52f4e" stroke-width="0.7" />
<line x1="315.50" y1="383.50" x2="323.80" y2="383.50" stroke="#33557b" stroke-width="1.0" />
<text x="332.20" y="386.70" font-size="8.5" fill="#3b6896" stroke="#3b6896" text-anchor="middle" textLength="8.90" lengthAdjust="spacingAndGlyphs" >37</text>
<text x="359.40" y="386.70" font-size="8.5" fill="#3b6896" stroke="#3b6896" text-anchor="middle" textLength="8.90" lengthAdjust="spacingAndGlyphs" >25</text>
<text x="386.60" y="386.70" font-size="8.5" fill="#3b6896" stroke="#3b6896" text-anchor="middle" textLength="8.90" lengthAdjust="spacingAndGlyphs" >17</text>
<text x="413.80" y="386.70" font-size="8.5" fill="#3b6896" stroke="#3b6896" text-anchor="middle" textLength="8.90" lengthAdjust="spacingAndGlyphs" >14</text>
<text x="441.00" y="386.70" font-size="8.5" fill="#3b6896" stroke="#3b6896" text-anchor="middle" textLength="4.80" lengthAdjust="spacingAndGlyphs" >9</text>
<text x="468.20" y="386.70" font-size="8.5" fill="#3b6896" stroke="#3b6896" text-anchor="middle" textLength="4.80" lengthAdjust="spacingAndGlyphs" >3</text>
<text x="495.40" y="386.70" font-size="8.5" fill="#3b6896" stroke="#3b6896" text-anchor="middle" textLength="4.80" lengthAdjust="spacingAndGlyphs" >2</text>
<line x1="315.50" y1="395.50" x2="323.80" y2="395.50" stroke="#b52f4e" stroke-width="1.0" />
<text x="332.20" y="398.70" font-size="8.5" fill="#b3355a" stroke="#b3355a" text-anchor="middle" textLength="8.90" lengthAdjust="spacingAndGlyphs" >27</text>
<text x="359.40" y="398.70" font-size="8.5" fill="#b3355a" stroke="#b3355a" text-anchor="middle" textLength="8.90" lengthAdjust="spacingAndGlyphs" >18</text>
<text x="386.60" y="398.70" font-size="8.5" fill="#b3355a" stroke="#b3355a" text-anchor="middle" textLength="4.80" lengthAdjust="spacingAndGlyphs" >7</text>
<text x="413.80" y="398.70" font-size="8.5" fill="#b3355a" stroke="#b3355a" text-anchor="middle" textLength="4.80" lengthAdjust="spacingAndGlyphs" >3</text>
<text x="441.00" y="398.70" font-size="8.5" fill="#b3355a" stroke="#b3355a" text-anchor="middle" textLength="4.80" lengthAdjust="spacingAndGlyphs" >2</text>
<text x="468.20" y="398.70" font-size="8.5" fill="#b3355a" stroke="#b3355a" text-anchor="middle" textLength="4.80" lengthAdjust="spacingAndGlyphs" >0</text>
<text x="495.40" y="398.70" font-size="8.5" fill="#b3355a" stroke="#b3355a" text-anchor="middle" textLength="4.80" lengthAdjust="spacingAndGlyphs" >0</text>
<line x1="60.40" y1="427.90" x2="60.40" y2="551.50" stroke="#2e2e2e" stroke-width="1.2" />
<line x1="59.90" y1="551.20" x2="233.60" y2="551.20" stroke="#2e2e2e" stroke-width="1.3" />
<line x1="56.60" y1="545.80" x2="60.40" y2="545.80" stroke="#2e2e2e" stroke-width="1.15" />
<text x="54.40" y="548.70" font-size="8.2" fill="#262626" stroke="#262626" text-anchor="end" textLength="4.50" lengthAdjust="spacingAndGlyphs" >0</text>
<line x1="56.60" y1="517.62" x2="60.40" y2="517.62" stroke="#2e2e2e" stroke-width="1.15" />
<text x="54.40" y="520.52" font-size="8.2" fill="#262626" stroke="#262626" text-anchor="end" textLength="8.80" lengthAdjust="spacingAndGlyphs" >25</text>
<line x1="56.60" y1="489.45" x2="60.40" y2="489.45" stroke="#2e2e2e" stroke-width="1.15" />
<text x="54.40" y="492.35" font-size="8.2" fill="#262626" stroke="#262626" text-anchor="end" textLength="8.80" lengthAdjust="spacingAndGlyphs" >50</text>
<line x1="56.60" y1="461.27" x2="60.40" y2="461.27" stroke="#2e2e2e" stroke-width="1.15" />
<text x="54.40" y="464.17" font-size="8.2" fill="#262626" stroke="#262626" text-anchor="end" textLength="8.80" lengthAdjust="spacingAndGlyphs" >75</text>
<line x1="56.60" y1="433.10" x2="60.40" y2="433.10" stroke="#2e2e2e" stroke-width="1.15" />
<text x="54.40" y="436.00" font-size="8.2" fill="#262626" stroke="#262626" text-anchor="end" textLength="13.00" lengthAdjust="spacingAndGlyphs" >100</text>
<line x1="68.10" y1="551.20" x2="68.10" y2="554.60" stroke="#2e2e2e" stroke-width="1.15" />
<text x="68.10" y="564.50" font-size="8.2" fill="#262626" stroke="#262626" text-anchor="middle" textLength="4.50" lengthAdjust="spacingAndGlyphs" >0</text>
<line x1="94.35" y1="551.20" x2="94.35" y2="554.60" stroke="#2e2e2e" stroke-width="1.15" />
<text x="94.35" y="564.50" font-size="8.2" fill="#262626" stroke="#262626" text-anchor="middle" textLength="8.80" lengthAdjust="spacingAndGlyphs" >12</text>
<line x1="120.60" y1="551.20" x2="120.60" y2="554.60" stroke="#2e2e2e" stroke-width="1.15" />
<text x="120.60" y="564.50" font-size="8.2" fill="#262626" stroke="#262626" text-anchor="middle" textLength="8.80" lengthAdjust="spacingAndGlyphs" >24</text>
<line x1="146.85" y1="551.20" x2="146.85" y2="554.60" stroke="#2e2e2e" stroke-width="1.15" />
<text x="146.85" y="564.50" font-size="8.2" fill="#262626" stroke="#262626" text-anchor="middle" textLength="8.80" lengthAdjust="spacingAndGlyphs" >36</text>
<line x1="173.10" y1="551.20" x2="173.10" y2="554.60" stroke="#2e2e2e" stroke-width="1.15" />
<text x="173.10" y="564.50" font-size="8.2" fill="#262626" stroke="#262626" text-anchor="middle" textLength="8.80" lengthAdjust="spacingAndGlyphs" >48</text>
<line x1="199.35" y1="551.20" x2="199.35" y2="554.60" stroke="#2e2e2e" stroke-width="1.15" />
<text x="199.35" y="564.50" font-size="8.2" fill="#262626" stroke="#262626" text-anchor="middle" textLength="8.80" lengthAdjust="spacingAndGlyphs" >60</text>
<line x1="225.60" y1="551.20" x2="225.60" y2="554.60" stroke="#2e2e2e" stroke-width="1.15" />
<text x="225.60" y="564.50" font-size="8.2" fill="#262626" stroke="#262626" text-anchor="middle" textLength="8.80" lengthAdjust="spacingAndGlyphs" >72</text>
<text x="147.10" y="577.70" font-size="9.3" fill="#262626" stroke="#262626" text-anchor="middle" textLength="26.70" lengthAdjust="spacingAndGlyphs" >Months</text>
<text transform="translate(34.60,489.50) rotate(-90)" font-size="8.8" fill="#262626" stroke="#262626" text-anchor="middle" textLength="83.9" lengthAdjust="spacingAndGlyphs">Relapse-free survival (%)</text>
<text x="235.8" y="425.5" font-size="8.2" fill="#262626" stroke="#262626" text-anchor="end" textLength="53.1" lengthAdjust="spacingAndGlyphs"><tspan font-style="italic">KMT2A::X</tspan> MRD</text>
<line x1="184.20" y1="434.20" x2="191.60" y2="434.20" stroke="#33557b" stroke-width="1.1" />
<text x="194.70" y="437.00" font-size="7.8" fill="#262626" stroke="#262626" textLength="32.60" lengthAdjust="spacingAndGlyphs" >MRD-neg</text>
<line x1="184.20" y1="446.20" x2="191.60" y2="446.20" stroke="#4ea24e" stroke-width="1.1" />
<text x="194.70" y="449.00" font-size="7.8" fill="#262626" stroke="#262626" textLength="44.10" lengthAdjust="spacingAndGlyphs" >0.001–&lt;0.1%</text>
<line x1="184.20" y1="458.10" x2="191.60" y2="458.10" stroke="#eca638" stroke-width="1.1" />
<text x="194.70" y="460.90" font-size="7.8" fill="#262626" stroke="#262626" textLength="29.20" lengthAdjust="spacingAndGlyphs" >0.1–&lt;1%</text>
<line x1="184.20" y1="469.60" x2="191.60" y2="469.60" stroke="#b52f4e" stroke-width="1.1" />
<text x="194.70" y="472.40" font-size="7.8" fill="#262626" stroke="#262626" textLength="14.50" lengthAdjust="spacingAndGlyphs" >≥1%</text>
<path d="M68.70,433.30 H69.50 V439.30 H74.70 V442.46 H76.51 V445.61 H78.33 V448.77 H80.14 V451.92 H81.95 V455.08 H83.76 V458.23 H85.58 V461.39 H87.39 V464.54 H89.20 V467.70 H94.30 V471.30 H96.00 V475.00 H103.10 V478.80 H147.50 V484.25 H165.75 V489.50 H232.00" fill="none" stroke="#33557b" stroke-width="1.0" stroke-linejoin="miter" stroke-linecap="butt" />
<line x1="104.80" y1="477.10" x2="104.80" y2="480.50" stroke="#33557b" stroke-width="0.7" />
<line x1="108.80" y1="477.10" x2="108.80" y2="480.50" stroke="#33557b" stroke-width="0.7" />
<line x1="137.50" y1="477.10" x2="137.50" y2="480.50" stroke="#33557b" stroke-width="0.7" />
<line x1="157.00" y1="482.50" x2="157.00" y2="485.90" stroke="#33557b" stroke-width="0.7" />
<line x1="170.00" y1="487.80" x2="170.00" y2="491.20" stroke="#33557b" stroke-width="0.7" />
<line x1="178.75" y1="487.80" x2="178.75" y2="491.20" stroke="#33557b" stroke-width="0.7" />
<line x1="190.00" y1="487.80" x2="190.00" y2="491.20" stroke="#33557b" stroke-width="0.7" />
<line x1="197.50" y1="487.80" x2="197.50" y2="491.20" stroke="#33557b" stroke-width="0.7" />
<line x1="231.25" y1="487.80" x2="231.25" y2="491.20" stroke="#33557b" stroke-width="0.7" />
<path d="M68.70,433.30 H75.80 V442.50 H76.80 V452.00 H77.80 V461.00 H82.10 V470.50 H84.50 V480.00 H88.00 V489.40 H89.60 V498.30 H154.25 V521.75 H195.50" fill="none" stroke="#4ea24e" stroke-width="1.0" stroke-linejoin="miter" stroke-linecap="butt" />
<path d="M68.70,433.30 H69.50 V439.30 H70.60 V449.40 H71.50 V465.20 H73.10 V497.40 H76.40 V513.40 H79.70 V529.20 H114.60" fill="none" stroke="#eca638" stroke-width="1.0" stroke-linejoin="miter" stroke-linecap="butt" />
<path d="M68.70,433.30 H74.40 V439.30 H75.40 V461.40 H79.40 V489.10 H95.40 V503.10 H104.60 V517.20 H116.60 V545.60 H116.60" fill="none" stroke="#b52f4e" stroke-width="1.0" stroke-linejoin="miter" stroke-linecap="butt" />
<path d="M232.2,489.5 H236.0 Q237.5,489.5 237.5,491.0 V522.5 Q237.5,524.0 236.0,524.0 H233.1" fill="none" stroke="#555" stroke-width="1.0"/>
<path d="M210.0,491.0 H213.2 Q214.7,491.0 214.7,492.5 V547.0 Q214.7,548.5 213.2,548.5 H210.0" fill="none" stroke="#555" stroke-width="1.0"/>
<text x="241.5" y="509.6" font-size="7.8" fill="#262626" stroke="#262626" textLength="21" lengthAdjust="spacingAndGlyphs"><tspan font-style="italic">P</tspan> = .8</text>
<text x="218.1" y="538.6" font-size="7.8" fill="#262626" stroke="#262626" textLength="25.6" lengthAdjust="spacingAndGlyphs"><tspan font-style="italic">P</tspan> = .03</text>
<line x1="51.00" y1="587.50" x2="60.90" y2="587.50" stroke="#33557b" stroke-width="1.0" />
<text x="68.10" y="590.50" font-size="8.5" fill="#3b6896" stroke="#3b6896" text-anchor="middle" textLength="8.90" lengthAdjust="spacingAndGlyphs" >37</text>
<text x="94.35" y="590.50" font-size="8.5" fill="#3b6896" stroke="#3b6896" text-anchor="middle" textLength="8.90" lengthAdjust="spacingAndGlyphs" >22</text>
<text x="120.60" y="590.50" font-size="8.5" fill="#3b6896" stroke="#3b6896" text-anchor="middle" textLength="8.90" lengthAdjust="spacingAndGlyphs" >15</text>
<text x="146.85" y="590.50" font-size="8.5" fill="#3b6896" stroke="#3b6896" text-anchor="middle" textLength="8.90" lengthAdjust="spacingAndGlyphs" >13</text>
<text x="173.10" y="590.50" font-size="8.5" fill="#3b6896" stroke="#3b6896" text-anchor="middle" textLength="4.80" lengthAdjust="spacingAndGlyphs" >8</text>
<text x="199.35" y="590.50" font-size="8.5" fill="#3b6896" stroke="#3b6896" text-anchor="middle" textLength="4.80" lengthAdjust="spacingAndGlyphs" >3</text>
<text x="225.60" y="590.50" font-size="8.5" fill="#3b6896" stroke="#3b6896" text-anchor="middle" textLength="4.80" lengthAdjust="spacingAndGlyphs" >2</text>
<line x1="51.00" y1="599.50" x2="60.90" y2="599.50" stroke="#4ea24e" stroke-width="1.0" />
<text x="68.10" y="602.30" font-size="8.5" fill="#55a655" stroke="#55a655" text-anchor="middle" textLength="8.90" lengthAdjust="spacingAndGlyphs" >12</text>
<text x="94.35" y="602.30" font-size="8.5" fill="#55a655" stroke="#55a655" text-anchor="middle" textLength="4.80" lengthAdjust="spacingAndGlyphs" >5</text>
<text x="120.60" y="602.30" font-size="8.5" fill="#55a655" stroke="#55a655" text-anchor="middle" textLength="4.80" lengthAdjust="spacingAndGlyphs" >3</text>
<text x="146.85" y="602.30" font-size="8.5" fill="#55a655" stroke="#55a655" text-anchor="middle" textLength="4.80" lengthAdjust="spacingAndGlyphs" >2</text>
<text x="173.10" y="602.30" font-size="8.5" fill="#55a655" stroke="#55a655" text-anchor="middle" textLength="4.80" lengthAdjust="spacingAndGlyphs" >1</text>
<text x="199.35" y="602.30" font-size="8.5" fill="#55a655" stroke="#55a655" text-anchor="middle" textLength="4.80" lengthAdjust="spacingAndGlyphs" >0</text>
<text x="225.60" y="602.30" font-size="8.5" fill="#55a655" stroke="#55a655" text-anchor="middle" textLength="4.80" lengthAdjust="spacingAndGlyphs" >0</text>
<line x1="51.00" y1="611.50" x2="60.90" y2="611.50" stroke="#eca638" stroke-width="1.0" />
<text x="68.10" y="614.30" font-size="8.5" fill="#eba43c" stroke="#eba43c" text-anchor="middle" textLength="4.80" lengthAdjust="spacingAndGlyphs" >7</text>
<text x="94.35" y="614.30" font-size="8.5" fill="#eba43c" stroke="#eba43c" text-anchor="middle" textLength="4.80" lengthAdjust="spacingAndGlyphs" >1</text>
<text x="120.60" y="614.30" font-size="8.5" fill="#eba43c" stroke="#eba43c" text-anchor="middle" textLength="4.80" lengthAdjust="spacingAndGlyphs" >0</text>
<text x="146.85" y="614.30" font-size="8.5" fill="#eba43c" stroke="#eba43c" text-anchor="middle" textLength="4.80" lengthAdjust="spacingAndGlyphs" >0</text>
<text x="173.10" y="614.30" font-size="8.5" fill="#eba43c" stroke="#eba43c" text-anchor="middle" textLength="4.80" lengthAdjust="spacingAndGlyphs" >0</text>
<text x="199.35" y="614.30" font-size="8.5" fill="#eba43c" stroke="#eba43c" text-anchor="middle" textLength="4.80" lengthAdjust="spacingAndGlyphs" >0</text>
<text x="225.60" y="614.30" font-size="8.5" fill="#eba43c" stroke="#eba43c" text-anchor="middle" textLength="4.80" lengthAdjust="spacingAndGlyphs" >0</text>
<line x1="51.00" y1="623.50" x2="60.90" y2="623.50" stroke="#b52f4e" stroke-width="1.0" />
<text x="68.10" y="626.00" font-size="8.5" fill="#b3355a" stroke="#b3355a" text-anchor="middle" textLength="4.80" lengthAdjust="spacingAndGlyphs" >8</text>
<text x="94.35" y="626.00" font-size="8.5" fill="#b3355a" stroke="#b3355a" text-anchor="middle" textLength="4.80" lengthAdjust="spacingAndGlyphs" >4</text>
<text x="120.60" y="626.00" font-size="8.5" fill="#b3355a" stroke="#b3355a" text-anchor="middle" textLength="4.80" lengthAdjust="spacingAndGlyphs" >0</text>
<text x="146.85" y="626.00" font-size="8.5" fill="#b3355a" stroke="#b3355a" text-anchor="middle" textLength="4.80" lengthAdjust="spacingAndGlyphs" >0</text>
<text x="173.10" y="626.00" font-size="8.5" fill="#b3355a" stroke="#b3355a" text-anchor="middle" textLength="4.80" lengthAdjust="spacingAndGlyphs" >0</text>
<text x="199.35" y="626.00" font-size="8.5" fill="#b3355a" stroke="#b3355a" text-anchor="middle" textLength="4.80" lengthAdjust="spacingAndGlyphs" >0</text>
<text x="225.60" y="626.00" font-size="8.5" fill="#b3355a" stroke="#b3355a" text-anchor="middle" textLength="4.80" lengthAdjust="spacingAndGlyphs" >0</text>
<line x1="324.30" y1="427.80" x2="324.30" y2="551.50" stroke="#2e2e2e" stroke-width="1.2" />
<line x1="323.80" y1="551.20" x2="503.60" y2="551.20" stroke="#2e2e2e" stroke-width="1.3" />
<line x1="320.50" y1="545.60" x2="324.30" y2="545.60" stroke="#2e2e2e" stroke-width="1.15" />
<text x="317.70" y="548.50" font-size="8.2" fill="#262626" stroke="#262626" text-anchor="end" textLength="4.50" lengthAdjust="spacingAndGlyphs" >0</text>
<line x1="320.50" y1="517.43" x2="324.30" y2="517.43" stroke="#2e2e2e" stroke-width="1.15" />
<text x="317.70" y="520.33" font-size="8.2" fill="#262626" stroke="#262626" text-anchor="end" textLength="8.80" lengthAdjust="spacingAndGlyphs" >25</text>
<line x1="320.50" y1="489.25" x2="324.30" y2="489.25" stroke="#2e2e2e" stroke-width="1.15" />
<text x="317.70" y="492.15" font-size="8.2" fill="#262626" stroke="#262626" text-anchor="end" textLength="8.80" lengthAdjust="spacingAndGlyphs" >50</text>
<line x1="320.50" y1="461.07" x2="324.30" y2="461.07" stroke="#2e2e2e" stroke-width="1.15" />
<text x="317.70" y="463.97" font-size="8.2" fill="#262626" stroke="#262626" text-anchor="end" textLength="8.80" lengthAdjust="spacingAndGlyphs" >75</text>
<line x1="320.50" y1="432.90" x2="324.30" y2="432.90" stroke="#2e2e2e" stroke-width="1.15" />
<text x="317.70" y="435.80" font-size="8.2" fill="#262626" stroke="#262626" text-anchor="end" textLength="13.00" lengthAdjust="spacingAndGlyphs" >100</text>
<line x1="332.30" y1="551.20" x2="332.30" y2="554.60" stroke="#2e2e2e" stroke-width="1.15" />
<text x="332.30" y="564.70" font-size="8.2" fill="#262626" stroke="#262626" text-anchor="middle" textLength="4.50" lengthAdjust="spacingAndGlyphs" >0</text>
<line x1="359.53" y1="551.20" x2="359.53" y2="554.60" stroke="#2e2e2e" stroke-width="1.15" />
<text x="359.53" y="564.70" font-size="8.2" fill="#262626" stroke="#262626" text-anchor="middle" textLength="8.80" lengthAdjust="spacingAndGlyphs" >12</text>
<line x1="386.77" y1="551.20" x2="386.77" y2="554.60" stroke="#2e2e2e" stroke-width="1.15" />
<text x="386.77" y="564.70" font-size="8.2" fill="#262626" stroke="#262626" text-anchor="middle" textLength="8.80" lengthAdjust="spacingAndGlyphs" >24</text>
<line x1="414.00" y1="551.20" x2="414.00" y2="554.60" stroke="#2e2e2e" stroke-width="1.15" />
<text x="414.00" y="564.70" font-size="8.2" fill="#262626" stroke="#262626" text-anchor="middle" textLength="8.80" lengthAdjust="spacingAndGlyphs" >36</text>
<line x1="441.23" y1="551.20" x2="441.23" y2="554.60" stroke="#2e2e2e" stroke-width="1.15" />
<text x="441.23" y="564.70" font-size="8.2" fill="#262626" stroke="#262626" text-anchor="middle" textLength="8.80" lengthAdjust="spacingAndGlyphs" >48</text>
<line x1="468.47" y1="551.20" x2="468.47" y2="554.60" stroke="#2e2e2e" stroke-width="1.15" />
<text x="468.47" y="564.70" font-size="8.2" fill="#262626" stroke="#262626" text-anchor="middle" textLength="8.80" lengthAdjust="spacingAndGlyphs" >60</text>
<line x1="495.70" y1="551.20" x2="495.70" y2="554.60" stroke="#2e2e2e" stroke-width="1.15" />
<text x="495.70" y="564.70" font-size="8.2" fill="#262626" stroke="#262626" text-anchor="middle" textLength="8.80" lengthAdjust="spacingAndGlyphs" >72</text>
<text x="413.80" y="577.20" font-size="9.3" fill="#262626" stroke="#262626" text-anchor="middle" textLength="26.50" lengthAdjust="spacingAndGlyphs" >Months</text>
<text transform="translate(299.00,489.50) rotate(-90)" font-size="8.8" fill="#262626" stroke="#262626" text-anchor="middle" textLength="83.9" lengthAdjust="spacingAndGlyphs">Relapse-free survival (%)</text>
<text x="509.9" y="425.3" font-size="8.2" fill="#262626" stroke="#262626" text-anchor="end" textLength="124.7" lengthAdjust="spacingAndGlyphs"><tspan font-style="italic">KMT2A::X</tspan> MRD 2-year RFS (95% CI)</text>
<line x1="422.90" y1="434.70" x2="430.60" y2="434.70" stroke="#33557b" stroke-width="1.1" />
<line x1="426.75" y1="433.20" x2="426.75" y2="436.20" stroke="#33557b" stroke-width="0.7" />
<text x="509.90" y="437.60" font-size="8.2" fill="#262626" stroke="#262626" text-anchor="end" textLength="76.70" lengthAdjust="spacingAndGlyphs" >MRD-neg 62% (42-77)</text>
<line x1="422.90" y1="445.60" x2="430.60" y2="445.60" stroke="#b52f4e" stroke-width="1.1" />
<line x1="426.75" y1="444.10" x2="426.75" y2="447.10" stroke="#b52f4e" stroke-width="0.7" />
<text x="504.20" y="448.50" font-size="8.2" fill="#262626" stroke="#262626" text-anchor="end" textLength="71.00" lengthAdjust="spacingAndGlyphs" >MRD-pos 17% (3-40)</text>
<text x="509.9" y="459.6" font-size="8.2" fill="#262626" stroke="#262626" text-anchor="end" textLength="35.1" lengthAdjust="spacingAndGlyphs"><tspan font-style="italic">P</tspan> = .0047</text>
<path d="M333.30,433.00 H333.30 V440.00 H336.80 V443.10 H343.10 V446.90 H347.50 V451.30 H349.00 V454.40 H350.50 V458.20 H352.50 V462.50 H359.50 V465.80 H360.90 V470.80 H368.10 V475.60 H433.40 V482.50 H503.70" fill="none" stroke="#33557b" stroke-width="1.0" stroke-linejoin="miter" stroke-linecap="butt" />
<line x1="369.80" y1="473.90" x2="369.80" y2="477.30" stroke="#33557b" stroke-width="0.7" />
<line x1="373.30" y1="473.90" x2="373.30" y2="477.30" stroke="#33557b" stroke-width="0.7" />
<line x1="375.30" y1="473.90" x2="375.30" y2="477.30" stroke="#33557b" stroke-width="0.7" />
<line x1="404.40" y1="473.90" x2="404.40" y2="477.30" stroke="#33557b" stroke-width="0.7" />
<line x1="412.70" y1="473.90" x2="412.70" y2="477.30" stroke="#33557b" stroke-width="0.7" />
<line x1="425.00" y1="473.90" x2="425.00" y2="477.30" stroke="#33557b" stroke-width="0.7" />
<line x1="437.00" y1="480.80" x2="437.00" y2="484.20" stroke="#33557b" stroke-width="0.7" />
<line x1="439.10" y1="480.80" x2="439.10" y2="484.20" stroke="#33557b" stroke-width="0.7" />
<line x1="447.60" y1="480.80" x2="447.60" y2="484.20" stroke="#33557b" stroke-width="0.7" />
<line x1="461.30" y1="480.80" x2="461.30" y2="484.20" stroke="#33557b" stroke-width="0.7" />
<line x1="466.00" y1="480.80" x2="466.00" y2="484.20" stroke="#33557b" stroke-width="0.7" />
<line x1="487.20" y1="480.80" x2="487.20" y2="484.20" stroke="#33557b" stroke-width="0.7" />
<line x1="502.60" y1="480.80" x2="502.60" y2="484.20" stroke="#33557b" stroke-width="0.7" />
<path d="M333.30,433.00 H333.30 V440.00 H336.80 V443.10 H338.10 V449.00 H338.80 V455.00 H339.60 V460.00 H340.60 V464.50 H341.00 V470.80 H342.10 V477.10 H344.10 V483.40 H346.90 V489.70 H349.40 V495.40 H354.40 V501.70 H369.40 V507.80 H382.80 V526.60 H464.10" fill="none" stroke="#b52f4e" stroke-width="1.0" stroke-linejoin="miter" stroke-linecap="butt" />
<line x1="380.20" y1="506.10" x2="380.20" y2="509.50" stroke="#b52f4e" stroke-width="0.7" />
<line x1="389.70" y1="524.90" x2="389.70" y2="528.30" stroke="#b52f4e" stroke-width="0.7" />
<line x1="464.10" y1="524.90" x2="464.10" y2="528.30" stroke="#b52f4e" stroke-width="0.7" />
<line x1="315.50" y1="587.50" x2="323.80" y2="587.50" stroke="#33557b" stroke-width="1.0" />
<text x="332.30" y="590.50" font-size="8.5" fill="#3b6896" stroke="#3b6896" text-anchor="middle" textLength="8.90" lengthAdjust="spacingAndGlyphs" >32</text>
<text x="359.53" y="590.50" font-size="8.5" fill="#3b6896" stroke="#3b6896" text-anchor="middle" textLength="8.90" lengthAdjust="spacingAndGlyphs" >20</text>
<text x="386.77" y="590.50" font-size="8.5" fill="#3b6896" stroke="#3b6896" text-anchor="middle" textLength="8.90" lengthAdjust="spacingAndGlyphs" >13</text>
<text x="414.00" y="590.50" font-size="8.5" fill="#3b6896" stroke="#3b6896" text-anchor="middle" textLength="8.90" lengthAdjust="spacingAndGlyphs" >11</text>
<text x="441.23" y="590.50" font-size="8.5" fill="#3b6896" stroke="#3b6896" text-anchor="middle" textLength="4.80" lengthAdjust="spacingAndGlyphs" >7</text>
<text x="468.47" y="590.50" font-size="8.5" fill="#3b6896" stroke="#3b6896" text-anchor="middle" textLength="4.80" lengthAdjust="spacingAndGlyphs" >3</text>
<text x="495.70" y="590.50" font-size="8.5" fill="#3b6896" stroke="#3b6896" text-anchor="middle" textLength="4.80" lengthAdjust="spacingAndGlyphs" >2</text>
<line x1="315.50" y1="599.50" x2="323.80" y2="599.50" stroke="#b52f4e" stroke-width="1.0" />
<text x="332.30" y="602.50" font-size="8.5" fill="#b3355a" stroke="#b3355a" text-anchor="middle" textLength="8.90" lengthAdjust="spacingAndGlyphs" >18</text>
<text x="359.53" y="602.50" font-size="8.5" fill="#b3355a" stroke="#b3355a" text-anchor="middle" textLength="4.80" lengthAdjust="spacingAndGlyphs" >7</text>
<text x="386.77" y="602.50" font-size="8.5" fill="#b3355a" stroke="#b3355a" text-anchor="middle" textLength="4.80" lengthAdjust="spacingAndGlyphs" >2</text>
<text x="414.00" y="602.50" font-size="8.5" fill="#b3355a" stroke="#b3355a" text-anchor="middle" textLength="4.80" lengthAdjust="spacingAndGlyphs" >1</text>
<text x="441.23" y="602.50" font-size="8.5" fill="#b3355a" stroke="#b3355a" text-anchor="middle" textLength="4.80" lengthAdjust="spacingAndGlyphs" >1</text>
<text x="468.47" y="602.50" font-size="8.5" fill="#b3355a" stroke="#b3355a" text-anchor="middle" textLength="4.80" lengthAdjust="spacingAndGlyphs" >0</text>
<text x="495.70" y="602.50" font-size="8.5" fill="#b3355a" stroke="#b3355a" text-anchor="middle" textLength="4.80" lengthAdjust="spacingAndGlyphs" >0</text>
</svg></body></html>
